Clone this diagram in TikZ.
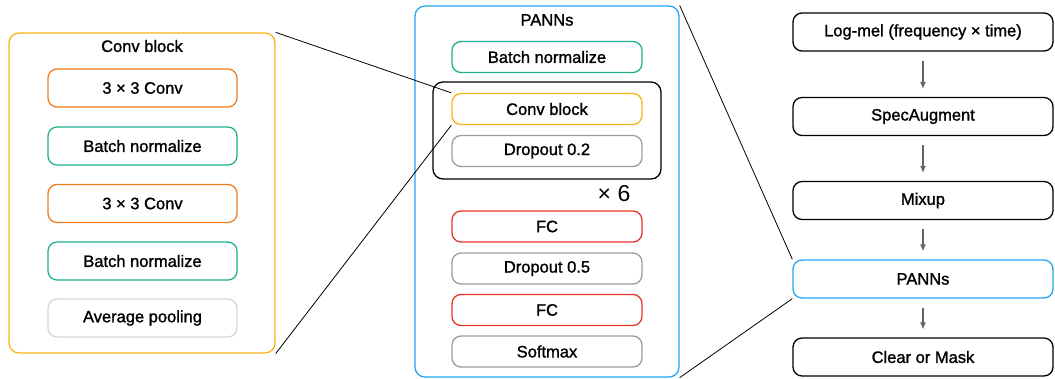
\documentclass[tikz,border=0pt]{standalone}
\usepackage{fontspec}
\setmainfont{Liberation Sans}
\newfontfamily\medfont[FakeBold=1.3]{Liberation Sans}
\usetikzlibrary{positioning,arrows.meta}
\definecolor{convorange}{HTML}{F07C1E}
\definecolor{bnteal}{HTML}{1FAF8E}
\definecolor{poolgray}{HTML}{D6D6D6}
\definecolor{dropgray}{HTML}{9C9C9C}
\definecolor{fcred}{HTML}{E8352A}
\definecolor{blockyellow}{HTML}{FBB21A}
\definecolor{pannsblue}{HTML}{22A6F0}
\definecolor{arrowgray}{HTML}{666666}
\begin{document}
\begin{tikzpicture}[x=1pt, y=-1pt,
		layer/.style={draw, rounded corners=9pt, line width=1.3pt, inner sep=0pt, minimum width=189pt, minimum height=38pt, font=\medfont\fontsize{16.5}{18}\selectfont},
		slim/.style={layer, minimum width=190pt, minimum height=31pt},
		panel/.style={draw, rounded corners=10pt, line width=1.3pt, inner sep=0pt},
		heading/.style={font=\medfont\fontsize{16.5}{18}\selectfont},
		flow/.style={-{Latex[length=7pt, width=6pt]}, arrowgray, line width=1.1pt, shorten <=9pt, shorten >=8pt},
		zoomline/.style={black, line width=0.8pt}]
	\useasboundingbox (0,0) rectangle (1055,378);
	% conv block, expanded
	\node[panel, draw=blockyellow, minimum width=266pt, minimum height=320pt] (convpanel) at (142,193) {};
	\node[heading] (convtitle) at (142,46) {Conv block};
	\node[layer, draw=convorange] (conva) at (142.5,88) {3 × 3 Conv};
	\node[layer, draw=bnteal] (bna) at (142.5,146) {Batch normalize};
	\node[layer, draw=convorange] (convb) at (142.5,203.5) {3 × 3 Conv};
	\node[layer, draw=bnteal] (bnb) at (142.5,261) {Batch normalize};
	\node[layer, draw=poolgray] (pool) at (142.5,318) {Average pooling};
	% PANNs, expanded
	\node[panel, draw=pannsblue, minimum width=264pt, minimum height=371pt] (pannspanel) at (547,191.5) {};
	\node[heading] (pannstitle) at (547,20) {PANNs};
	\node[slim, draw=bnteal] (mbn) at (547,57) {Batch normalize};
	\node[panel, draw=black, minimum width=228pt, minimum height=97pt] (group) at (547,130.5) {};
	\node[slim, draw=blockyellow] (mconv) at (547,109) {Conv block};
	\node[slim, draw=dropgray] (dropa) at (547,151) {Dropout 0.2};
	\node[font=\fontsize{23}{25}\selectfont] (times) at (614,194) {× 6};
	\node[slim, draw=fcred] (fca) at (547,226.5) {FC};
	\node[slim, draw=dropgray] (dropb) at (547,268.5) {Dropout 0.5};
	\node[slim, draw=fcred] (fcb) at (547,310) {FC};
	\node[slim, draw=dropgray] (soft) at (547,351.5) {Softmax};
	% pipeline
	\node[layer, draw=black, minimum width=260pt] (logmel) at (923,32) {Log-mel (frequency × time)};
	\node[layer, draw=black, minimum width=260pt] (specaug) at (923,116.5) {SpecAugment};
	\node[layer, draw=black, minimum width=260pt] (mixup) at (923,200.5) {Mixup};
	\node[layer, draw=pannsblue, minimum width=260pt] (panns) at (923,279) {PANNs};
	\node[layer, draw=black, minimum width=260pt] (mask) at (923,357) {Clear or Mask};
	\draw[flow] (logmel) -- (specaug);
	\draw[flow] (specaug) -- (mixup);
	\draw[flow] (mixup) -- (panns);
	\draw[flow] (panns) -- (mask);
	\draw[zoomline] (convpanel.north east) -- (mconv.north west);
	\draw[zoomline] (convpanel.south east) -- (mconv.south west);
	\draw[zoomline] (pannspanel.north east) -- (panns.north west);
	\draw[zoomline] (pannspanel.south east) -- (panns.south west);
\end{tikzpicture}
\end{document}
